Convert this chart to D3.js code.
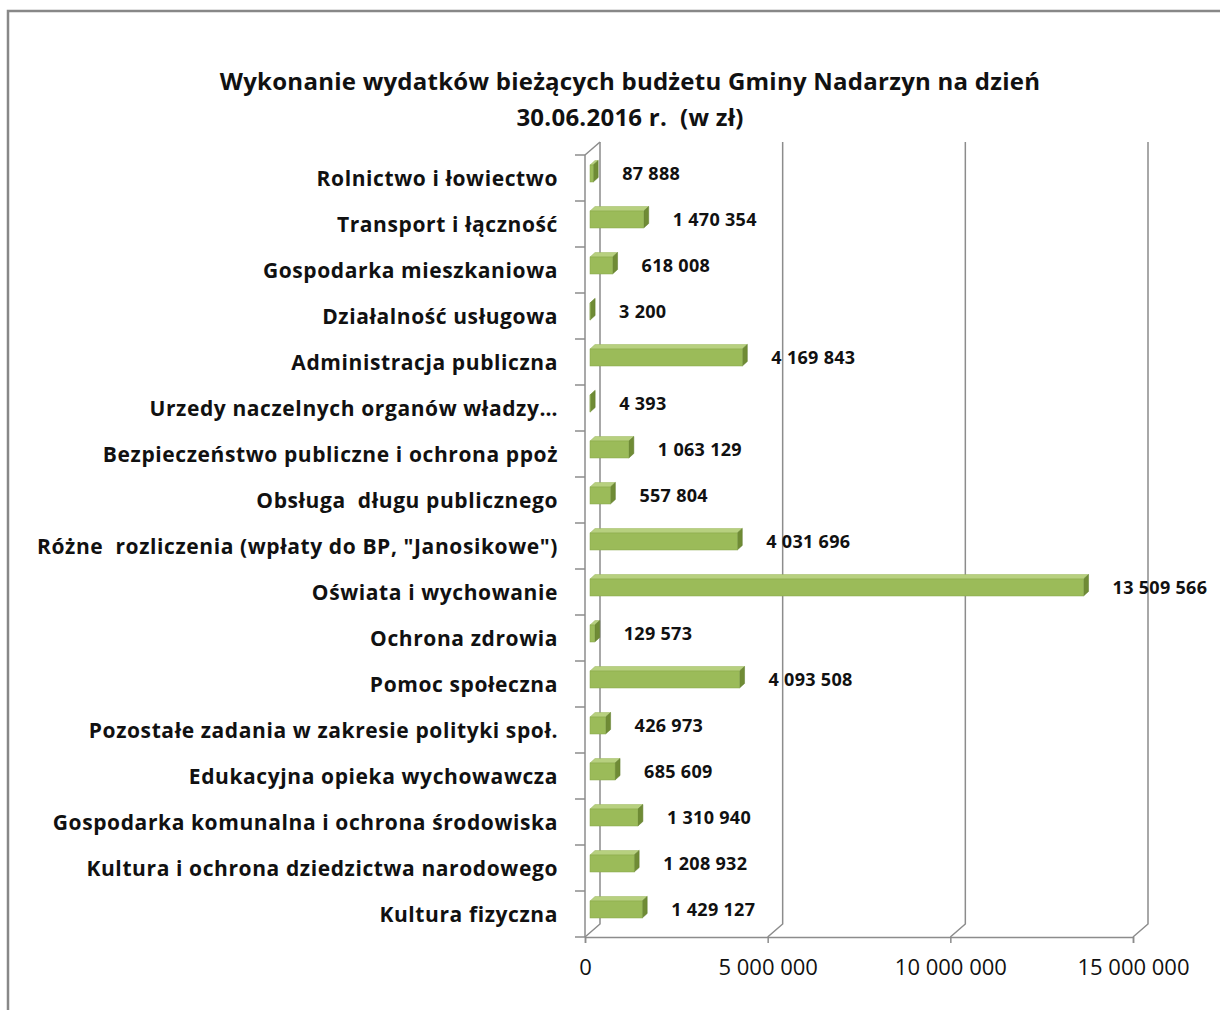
<!DOCTYPE html>
<html>
<head>
<meta charset="utf-8">
<script src="https://cdn.jsdelivr.net/npm/d3@7"></script>
<style>
  body { margin: 0; background: #fff; }
  text { font-family: "Open Sans", Lato, sans-serif; white-space: pre; }
</style>
</head>
<body>
<svg id="chart"></svg>
<script>
// categories, top to bottom as in the chart
const categories = [
  "Rolnictwo i łowiectwo",
  "Transport i łączność",
  "Gospodarka mieszkaniowa",
  "Działalność usługowa",
  "Administracja publiczna",
  "Urzedy naczelnych organów władzy…",
  "Bezpieczeństwo publiczne i ochrona ppoż",
  "Obsługa  długu publicznego",
  "Różne  rozliczenia (wpłaty do BP, \"Janosikowe\")",
  "Oświata i wychowanie",
  "Ochrona zdrowia",
  "Pomoc społeczna",
  "Pozostałe zadania w zakresie polityki społ.",
  "Edukacyjna opieka wychowawcza",
  "Gospodarka komunalna i ochrona środowiska",
  "Kultura i ochrona dziedzictwa narodowego",
  "Kultura fizyczna"
];
const values = [87888, 1470354, 618008, 3200, 4169843, 4393, 1063129, 557804,
  4031696, 13509566, 129573, 4093508, 426973, 685609, 1310940, 1208932, 1429127];
const xTicks = [0, 5000000, 10000000, 15000000];
const titleLines = ["Wykonanie wydatków bieżących budżetu Gminy Nadarzyn na dzień", "30.06.2016 r.  (w zł)"];

const W = 1220, H = 1010;
const svg = d3.select("#chart").attr("width", W).attr("height", H);

const gridColor = "#8c8c8c";
const depthX = 15, depthY = -13;   // offset of the back wall

const x = d3.scaleLinear().domain([0, 15000000]).range([585, 1133]);
const y = d3.scaleBand().domain(categories).range([155, 937]).padding(0);
const fmt = v => d3.format(",")(v).replace(/,/g, " ");

// frame (only top and left edges visible)
svg.append("path")
  .attr("d", `M8,${H} L8,11 L${W},11`)
  .attr("fill", "none")
  .attr("stroke", "#888")
  .attr("stroke-width", 2.5);

// title
svg.append("g").selectAll("text")
  .data(titleLines)
  .join("text")
  .attr("x", 630)
  .attr("y", (d, i) => 90 + i * 36)
  .attr("text-anchor", "middle")
  .attr("font-size", 24)
  .attr("font-weight", "bold")
  .attr("letter-spacing", 0.25)
  .attr("fill", "#111")
  .text(d => d);

// back wall gridlines + floor diagonals
const yTop = y.range()[0], yBot = y.range()[1];
const grid = svg.append("g").attr("stroke", gridColor).attr("stroke-width", 1.5).attr("fill", "none");
grid.selectAll("path.g")
  .data(xTicks)
  .join("path")
  .attr("class", "g")
  .attr("d", d => `M${x(d) + depthX},${yTop + depthY} L${x(d) + depthX},${yBot + depthY} L${x(d)},${yBot}`);
// top diagonal of the left wall
grid.append("path")
  .attr("d", `M${x(0)},${yTop} L${x(0) + depthX},${yTop + depthY}`);
// front left axis
grid.append("path")
  .attr("d", `M${x(0)},${yTop} L${x(0)},${yBot}`);

// left ticks at band boundaries
const bounds = categories.map(c => y(c)).concat([yBot]);
grid.selectAll("line.t")
  .data(bounds)
  .join("line")
  .attr("class", "t")
  .attr("x1", x(0) - 10).attr("x2", x(0))
  .attr("y1", d => d).attr("y2", d => d);

// bottom axis
const xAxis = svg.append("g")
  .attr("transform", `translate(0,${yBot})`)
  .call(d3.axisBottom(x).tickValues(xTicks).tickFormat(fmt).tickSizeOuter(0).tickSize(6).tickPadding(16));
xAxis.select(".domain").attr("stroke", gridColor).attr("stroke-width", 1.5);
xAxis.selectAll(".tick line").attr("stroke", gridColor).attr("stroke-width", 1.5);
xAxis.selectAll(".tick text")
  .attr("font-family", "Lato, sans-serif")
  .attr("font-size", 22)
  .attr("fill", "#111");

// category labels
svg.append("g").selectAll("text")
  .data(categories)
  .join("text")
  .attr("x", 558)
  .attr("y", d => y(d) + y.bandwidth() / 2 + 8)
  .attr("text-anchor", "end")
  .attr("font-size", 21)
  .attr("font-weight", "bold")
  .attr("letter-spacing", 0.6)
  .attr("fill", "#111")
  .text(d => d);

// 3D bars
const barH = 17;
const fx = 5, fy = -4.5;   // front face offset
const bd = 5, bdy = -4.5;  // bar depth
const bars = svg.append("g").selectAll("g")
  .data(categories.map((c, i) => ({ c, v: values[i] })))
  .join("g");

function face(d) {
  const x0 = x(0) + fx, x1 = x(d.v) + fx;
  const y0 = y(d.c) + y.bandwidth() / 2 - barH / 2 + fy;
  return { x0, x1, y0, y1: y0 + barH };
}

// top face
bars.append("path")
  .attr("d", d => {
    const f = face(d);
    return `M${f.x0},${f.y0} L${f.x0 + bd},${f.y0 + bdy} L${f.x1 + bd},${f.y0 + bdy} L${f.x1},${f.y0}Z`;
  })
  .attr("fill", "#b7d07f")
  .attr("stroke", "#9ab65c").attr("stroke-width", 0.5);
// side face
bars.append("path")
  .attr("d", d => {
    const f = face(d);
    return `M${f.x1},${f.y0} L${f.x1 + bd},${f.y0 + bdy} L${f.x1 + bd},${f.y1 + bdy} L${f.x1},${f.y1}Z`;
  })
  .attr("fill", "#6f8b35")
  .attr("stroke", "#5f7a2c").attr("stroke-width", 0.5);
// front face
bars.append("rect")
  .attr("x", d => face(d).x0)
  .attr("y", d => face(d).y0)
  .attr("width", d => Math.max(0.5, face(d).x1 - face(d).x0))
  .attr("height", barH)
  .attr("fill", "#9bbb59")
  .attr("stroke", "#86a64a").attr("stroke-width", 0.5);

// value labels
svg.append("g").selectAll("text")
  .data(categories.map((c, i) => ({ c, v: values[i] })))
  .join("text")
  .attr("x", d => x(d.v) + fx + bd + 24)
  .attr("y", d => y(d.c) + y.bandwidth() / 2 + 2)
  .attr("font-size", 18)
  .attr("font-weight", "bold")
  .attr("letter-spacing", 0.3)
  .attr("fill", "#111")
  .text(d => fmt(d.v));
</script>
</body>
</html>
